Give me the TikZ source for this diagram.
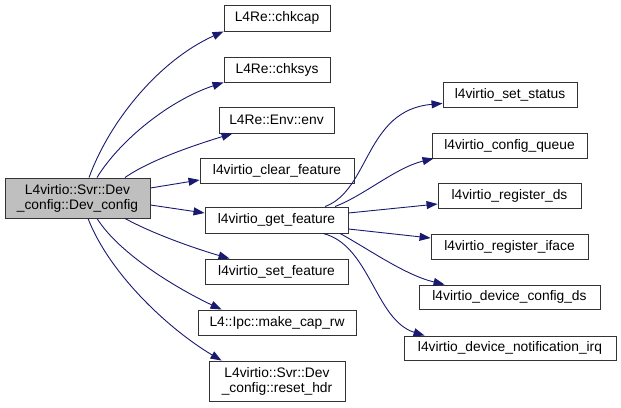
\documentclass[tikz,border=0pt]{standalone}
\usepackage{fontspec}
\setmainfont{Liberation Sans}
\usetikzlibrary{arrows.meta}
\definecolor{edgeblue}{HTML}{191970}
\definecolor{mainfill}{HTML}{BFBFBF}
\begin{document}
\begin{tikzpicture}[x=1pt,y=1pt,
  box/.style={draw=black!80,line width=0.9pt,fill=white,inner sep=0pt,align=center,
    font=\fontsize{13.8}{15}\selectfont},
  edge/.style={draw=edgeblue,line width=0.9pt,-{Triangle[length=11pt,width=8pt]}}]
\useasboundingbox (0,0) rectangle (621,407);
% left
\node[box,fill=mainfill,minimum width=145,minimum height=40] (main) at (77.5,209) {L4virtio::Svr::Dev\\\_config::Dev\_config};
\node[box,minimum width=106,minimum height=26] (chkcap) at (277,389) {L4Re::chkcap};
\node[box,minimum width=106,minimum height=25] (chksys) at (277,337.5) {L4Re::chksys};
\node[box,minimum width=115,minimum height=26] (env) at (276.5,287) {L4Re::Env::env};
\node[box,minimum width=154,minimum height=25] (clear) at (277,236.5) {l4virtio\_clear\_feature};
\node[box,minimum width=143,minimum height=26] (get) at (276.5,187) {l4virtio\_get\_feature};
\node[box,minimum width=143,minimum height=25] (setf) at (276.5,135.5) {l4virtio\_set\_feature};
\node[box,minimum width=158,minimum height=25] (make) at (277,84.5) {L4::Ipc::make\_cap\_rw};
\node[box,minimum width=136,minimum height=40] (reset) at (277,26) {L4virtio::Svr::Dev\\\_config::reset\_hdr};
% right
\node[box,minimum width=134,minimum height=25] (status) at (510,312.5) {l4virtio\_set\_status};
\node[box,minimum width=155,minimum height=25] (queue) at (509.5,261.5) {l4virtio\_config\_queue};
\node[box,minimum width=143,minimum height=25] (regds) at (509.5,211.5) {l4virtio\_register\_ds};
\node[box,minimum width=157,minimum height=25] (iface) at (509.5,160.5) {l4virtio\_register\_iface};
\node[box,minimum width=181,minimum height=24] (devcfg) at (509.5,110) {l4virtio\_device\_config\_ds};
\node[box,minimum width=212,minimum height=24] (irq) at (510,59) {l4virtio\_device\_notification\_irq};
% edges from main
\draw[edge] ([xshift=11.5]main.north) .. controls (110,287) and (160,347) .. (chkcap.south west);
\draw[edge] ([xshift=19.5]main.north) .. controls (120,267) and (170,307) .. (chksys.south west);
\draw[edge] ([xshift=47.5]main.north) .. controls (150,247) and (195,262) .. ([xshift=14]env.south west);
\draw[edge] ([yshift=10]main.east) -- ([yshift=-9.5]clear.west);
\draw[edge] ([yshift=-7]main.east) -- ([yshift=7]get.west);
\draw[edge] ([xshift=47.5]main.south) .. controls (155,172) and (200,157) .. ([xshift=25]setf.north west);
\draw[edge] ([xshift=19.5]main.south) .. controls (120,152) and (180,117) .. ([xshift=24]make.north west);
\draw[edge] ([xshift=10.5]main.south) .. controls (110,132) and (170,77) .. ([xshift=13]reset.north west);
% edges from get
\draw[edge] ([xshift=48.5]get.north) .. controls (370,217) and (365,297) .. ([yshift=4]status.south west);
\draw[edge] ([xshift=58.5]get.north) .. controls (365,212) and (395,239) .. ([xshift=2]queue.south west);
\draw[edge] ([yshift=7]get.east) -- ([yshift=-8.5]regds.west);
\draw[edge] ([yshift=-9]get.east) -- ([yshift=8.5]iface.west);
\draw[edge] ([xshift=63.5]get.south) .. controls (370,157) and (405,132) .. ([xshift=26]devcfg.north west);
\draw[edge] ([xshift=46.5]get.south) .. controls (370,162) and (375,87) .. ([xshift=21]irq.north west);
\end{tikzpicture}
\end{document}
